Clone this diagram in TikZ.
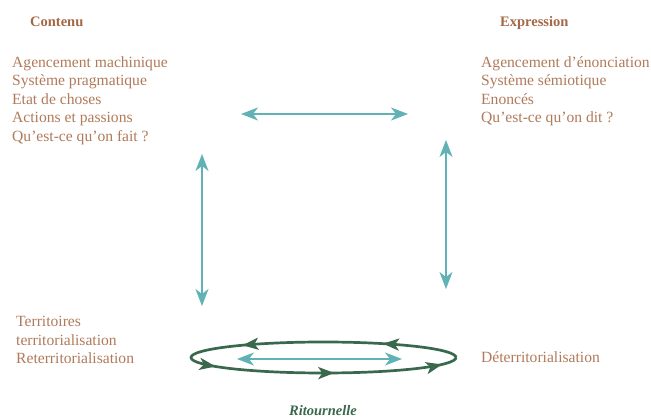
\documentclass[tikz,border=0pt]{standalone}
\usepackage{fontspec}
\setmainfont{Liberation Serif}
\usetikzlibrary{arrows.meta,decorations.markings}
\definecolor{brun}{RGB}{176,122,90}
\definecolor{brunfonce}{RGB}{164,104,70}
\definecolor{turquoise}{RGB}{96,178,180}
\definecolor{vert}{RGB}{58,104,76}
\tikzset{
  txt/.style={anchor=base west, inner sep=0pt, text=brun, font=\fontsize{15.6}{18}\selectfont},
  titre/.style={anchor=base west, inner sep=0pt, text=brunfonce, font=\fontsize{14.5}{18}\selectfont\bfseries},
  fleche/.style={draw=turquoise, line width=1.4pt, {Stealth[length=17pt,width=13pt,inset=5pt]}-{Stealth[length=17pt,width=13pt,inset=5pt]}},
  boucle/.style={draw=vert, line width=2.7pt},
  pointe/.style={decoration={markings,
      mark=at position 0.14 with {\arrow{Stealth[length=16pt,width=12pt,inset=4pt]}},
      mark=at position 0.40 with {\arrow{Stealth[length=16pt,width=12pt,inset=4pt]}},
      mark=at position 0.55 with {\arrow{Stealth[length=16pt,width=12pt,inset=4pt]}},
      mark=at position 0.77 with {\arrow{Stealth[length=16pt,width=12pt,inset=4pt]}},
      mark=at position 0.97 with {\arrow{Stealth[length=16pt,width=12pt,inset=4pt]}}},
    postaction=decorate}
}
\begin{document}
\begin{tikzpicture}[x=1pt, y=-1pt]
  \useasboundingbox (0,0) rectangle (651,419);

  % Arrow ends
  \coordinate (H1) at (241,114);
  \coordinate (H2) at (408,114);
  \coordinate (G1) at (202,154);
  \coordinate (G2) at (202,306);
  \coordinate (D1) at (446,140);
  \coordinate (D2) at (446,289);
  \coordinate (R1) at (237,359);
  \coordinate (R2) at (402,359);
  \coordinate (E) at (456,357.5);

  % Headers
  \node[titre] (contenu) at (30,26.5) {Contenu};
  \node[titre] (expression) at (500,26.5) {Expression};

  % Left column
  \node[txt] (c1) at (12,67.5) {Agencement machinique};
  \node[txt] (c2) at (12,86) {Système pragmatique};
  \node[txt] (c3) at (12,104.5) {Etat de choses};
  \node[txt] (c4) at (12,123) {Actions et passions};
  \node[txt] (c5) at (12,141.5) {Qu’est-ce qu’on fait ?};

  % Right column
  \node[txt] (e1) at (481,67.5) {Agencement d’énonciation};
  \node[txt] (e2) at (481,86) {Système sémiotique};
  \node[txt] (e3) at (481,104.5) {Enoncés};
  \node[txt] (e4) at (481,123) {Qu’est-ce qu’on dit ?};

  % Bottom
  \node[txt] (t1) at (16,327) {Territoires};
  \node[txt] (t2) at (16,345.5) {territorialisation};
  \node[txt] (t3) at (16,364) {Reterritorialisation};
  \node[txt] (det) at (481,363) {Déterritorialisation};
  \node[anchor=base, inner sep=0pt, text=vert, font=\fontsize{14.5}{18}\selectfont\bfseries\itshape] (ritournelle) at (323,416) {Ritournelle};

  % Arrows
  \draw[fleche] (H1) -- (H2);
  \draw[fleche] (G1) -- (G2);
  \draw[fleche] (D1) -- (D2);
  \draw[fleche] (R1) -- (R2);

  % Loop
  \draw[boucle, pointe] (E) arc[start angle=0, end angle=-360, x radius=132.5, y radius=15.5];
\end{tikzpicture}
\end{document}
